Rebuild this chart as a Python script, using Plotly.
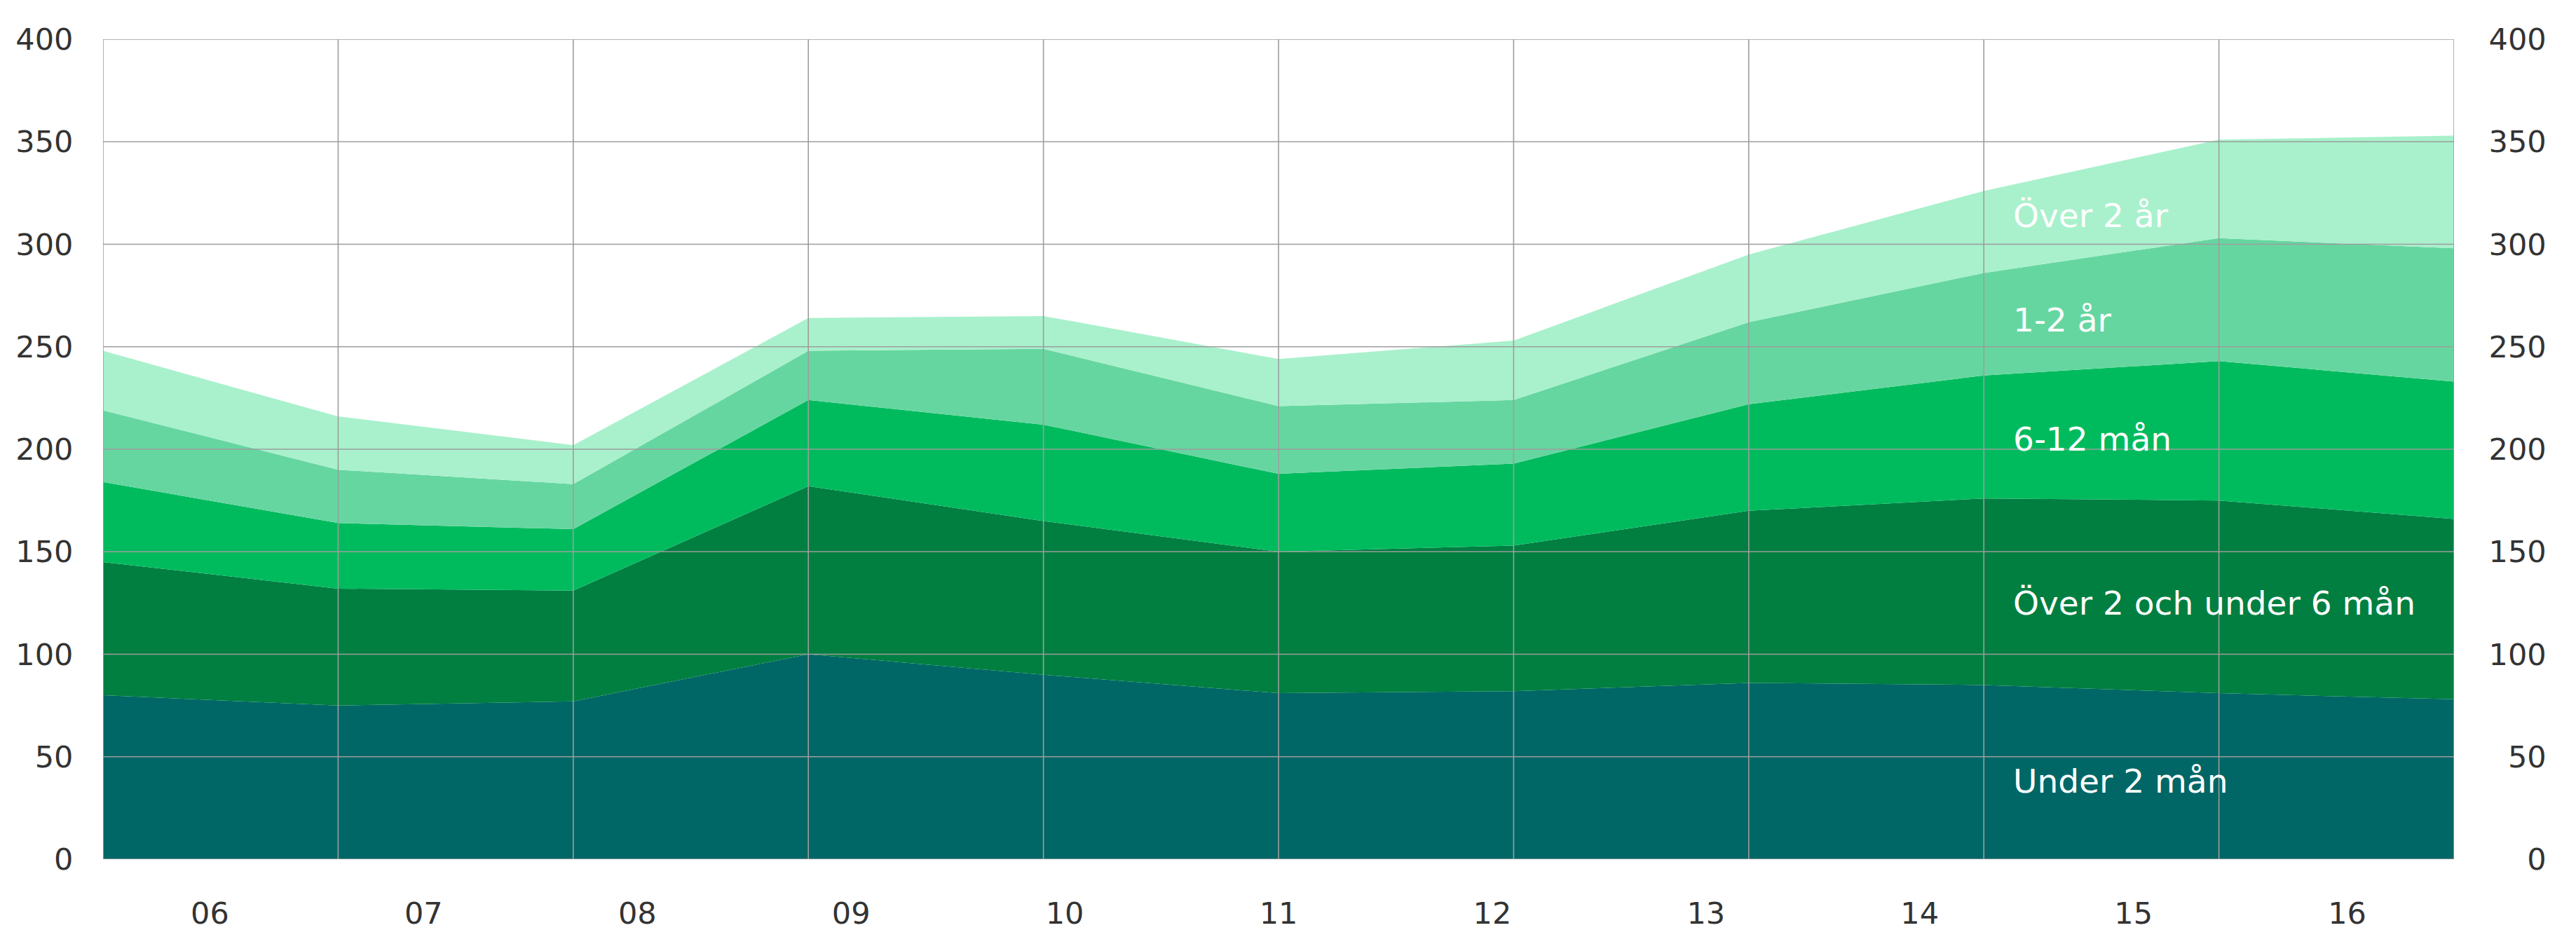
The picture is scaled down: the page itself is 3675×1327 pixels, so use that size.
import plotly.graph_objects as go

# Category labels (x axis)
years = ["06", "07", "08", "09", "10", "11", "12", "13", "14", "15", "16"]

# Series values (individual layer thickness derived from stacked tops)
under_2_man = [80, 75, 77, 100, 90, 81, 82, 86, 85, 81, 78]
over2_under6 = [65, 57, 54, 82, 75, 69, 71, 84, 91, 94, 88]
m6_12 = [39, 32, 30, 42, 47, 38, 40, 52, 60, 68, 67]
y1_2 = [35, 26, 22, 24, 37, 33, 31, 40, 50, 60, 65]
over_2_ar = [29, 26, 19, 16, 16, 23, 29, 33, 40, 48, 55]

series_names = ["Under 2 mån", "Över 2 och under 6 mån", "6-12 mån", "1-2 år", "Över 2 år"]
series_values = [under_2_man, over2_under6, m6_12, y1_2, over_2_ar]
series_colors = ["#006766", "#007F41", "#00BB5E", "#66D6A0", "#A8F1CC"]

# Label anchor (y, in data units) for the inline series labels
label_y = [38, 125, 205, 263, 314]
label_x = 8.12

y_ticks = [0, 50, 100, 150, 200, 250, 300, 350, 400]

FONT = "DejaVu Sans"
TICK_COLOR = "#333333"
GRID = "#9d9d9d"

fig = go.Figure()
xs = list(range(len(years)))
for name, vals, col in zip(series_names, series_values, series_colors):
    fig.add_trace(go.Scatter(
        x=xs, y=vals, name=name, mode="lines",
        stackgroup="one", line=dict(width=0, color=col),
        fillcolor=col, hoverinfo="skip", showlegend=False,
    ))

# invisible trace to activate the secondary axes (labels)
fig.add_trace(go.Scatter(x=[0, len(years)], y=[0, 0], xaxis="x2", yaxis="y2",
                         mode="markers", marker=dict(opacity=0), hoverinfo="skip",
                         showlegend=False))

shapes = []
for xv in xs:
    shapes.append(dict(type="line", xref="x", yref="paper", x0=xv, x1=xv, y0=0, y1=1,
                       line=dict(color=GRID, width=1.6), layer="above"))
for yv in y_ticks:
    shapes.append(dict(type="line", xref="paper", yref="y", x0=0, x1=1, y0=yv, y1=yv,
                       line=dict(color=GRID, width=1.6), layer="above"))

annotations = []
for name, ly in zip(series_names, label_y):
    annotations.append(dict(x=label_x, y=ly, xref="x", yref="y", text=name,
                            showarrow=False, xanchor="left", yanchor="middle",
                            font=dict(family=FONT, size=47, color="white")))

maxlen = max(len(str(v)) for v in y_ticks)
right_text = ["\u2007" * (maxlen - len(str(v))) + str(v) for v in y_ticks]

fig.update_layout(
    width=3675, height=1327,
    margin=dict(l=139, r=182, t=48, b=109),
    paper_bgcolor="white", plot_bgcolor="white",
    font=dict(family=FONT, size=43, color=TICK_COLOR),
    shapes=shapes, annotations=annotations,
    hovermode=False,
    xaxis=dict(range=[0, len(years) - 1], showgrid=False, showticklabels=False,
               zeroline=False, showline=False, fixedrange=True, automargin=False),
    xaxis2=dict(range=[0, len(years)], overlaying="x", side="bottom", anchor="y2",
                tickvals=[i + 0.5 for i in range(len(years))], ticktext=years,
                showgrid=False, zeroline=False, showline=False, automargin=False,
                ticks="outside", ticklen=39, tickcolor="rgba(0,0,0,0)",
                tickfont=dict(family=FONT, size=43, color=TICK_COLOR)),
    yaxis=dict(range=[0, 400], tickvals=y_ticks, ticktext=[str(v) for v in y_ticks],
               showgrid=False, zeroline=False, showline=False, automargin=False,
               ticks="outside", ticklen=33, tickcolor="rgba(0,0,0,0)",
               tickfont=dict(family=FONT, size=43, color=TICK_COLOR)),
    yaxis2=dict(range=[0, 400], overlaying="y", side="right", anchor="x2",
                tickvals=y_ticks, ticktext=right_text, automargin=False,
                showgrid=False, zeroline=False, showline=False,
                ticks="outside", ticklen=40, tickcolor="rgba(0,0,0,0)",
                tickfont=dict(family=FONT, size=43, color=TICK_COLOR)),
)

fig.write_html("out.html")
